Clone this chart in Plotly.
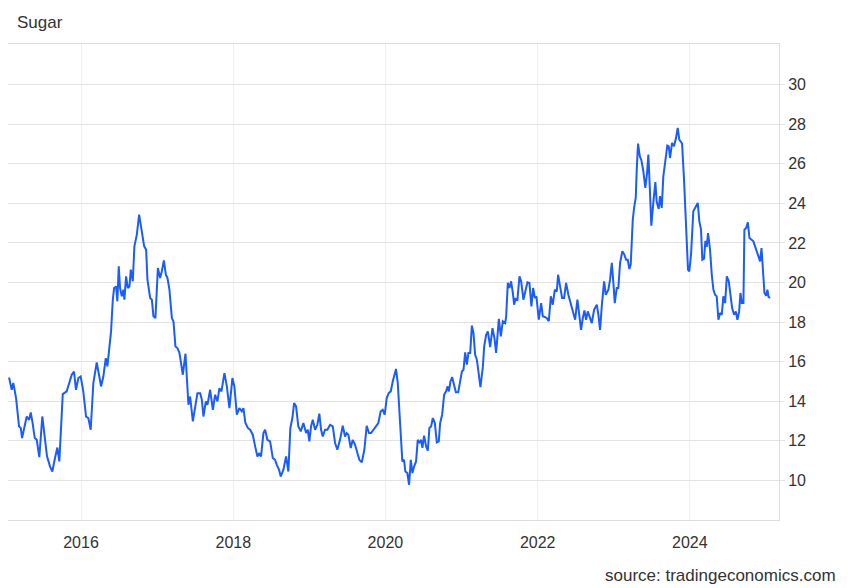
import pandas as pd
import plotly.graph_objects as go

# Decimal-year positions and sugar prices (USd/lbs)
years = [
2015.054,2015.089,2015.110,2015.146,2015.185,2015.208,2015.225,2015.251,2015.286,2015.317,
2015.339,2015.360,2015.392,2015.418,2015.452,2015.491,2015.527,2015.553,2015.593,2015.623,
2015.658,2015.689,2015.715,2015.760,2015.812,2015.846,2015.878,2015.908,2015.934,2015.965,
2015.996,2016.030,2016.066,2016.096,2016.127,2016.162,2016.206,2016.240,2016.263,2016.293,
2016.325,2016.346,2016.372,2016.394,2016.417,2016.434,2016.460,2016.477,2016.495,2016.512,
2016.535,2016.556,2016.569,2016.591,2016.614,2016.635,2016.653,2016.679,2016.700,2016.732,
2016.762,2016.798,2016.828,2016.854,2016.871,2016.907,2016.929,2016.950,2016.976,2017.008,
2017.038,2017.060,2017.087,2017.113,2017.134,2017.160,2017.192,2017.213,2017.239,2017.265,
2017.292,2017.336,2017.371,2017.410,2017.432,2017.468,2017.498,2017.528,2017.564,2017.586,
2017.607,2017.639,2017.660,2017.695,2017.731,2017.761,2017.791,2017.817,2017.844,2017.883,
2017.915,2017.949,2017.988,2018.014,2018.046,2018.080,2018.112,2018.133,2018.159,2018.191,
2018.221,2018.256,2018.287,2018.317,2018.343,2018.365,2018.396,2018.418,2018.448,2018.484,
2018.519,2018.549,2018.572,2018.602,2018.624,2018.658,2018.694,2018.724,2018.750,2018.777,
2018.799,2018.825,2018.855,2018.887,2018.921,2018.957,2018.979,2019.000,2019.022,2019.045,
2019.075,2019.105,2019.131,2019.154,2019.176,2019.206,2019.237,2019.272,2019.308,2019.338,
2019.368,2019.403,2019.439,2019.469,2019.491,2019.513,2019.544,2019.570,2019.601,2019.623,
2019.657,2019.689,2019.723,2019.754,2019.785,2019.811,2019.841,2019.873,2019.907,2019.938,
2019.965,2019.991,2020.017,2020.043,2020.070,2020.096,2020.117,2020.139,2020.162,2020.183,
2020.201,2020.222,2020.244,2020.262,2020.288,2020.310,2020.333,2020.354,2020.376,2020.402,
2020.424,2020.446,2020.468,2020.485,2020.507,2020.534,2020.556,2020.577,2020.599,2020.622,
2020.648,2020.674,2020.700,2020.718,2020.744,2020.770,2020.796,2020.813,2020.832,2020.853,
2020.875,2020.898,2020.924,2020.954,2020.980,2021.003,2021.024,2021.046,2021.068,2021.089,
2021.112,2021.134,2021.155,2021.177,2021.200,2021.221,2021.247,2021.279,2021.296,2021.322,
2021.344,2021.375,2021.405,2021.431,2021.453,2021.489,2021.515,2021.541,2021.572,2021.585,
2021.607,2021.628,2021.650,2021.673,2021.690,2021.707,2021.733,2021.760,2021.782,2021.812,
2021.838,2021.865,2021.891,2021.917,2021.940,2021.962,2021.983,2022.014,2022.045,2022.067,
2022.093,2022.120,2022.146,2022.172,2022.198,2022.225,2022.251,2022.268,2022.294,2022.321,
2022.347,2022.373,2022.403,2022.435,2022.461,2022.492,2022.522,2022.548,2022.570,2022.593,
2022.614,2022.636,2022.658,2022.689,2022.711,2022.741,2022.777,2022.798,2022.820,2022.842,
2022.873,2022.895,2022.929,2022.951,2022.974,2022.995,2023.013,2023.039,2023.060,2023.083,
2023.113,2023.139,2023.162,2023.184,2023.205,2023.223,2023.250,2023.267,2023.289,2023.302,
2023.319,2023.342,2023.363,2023.389,2023.415,2023.438,2023.455,2023.473,2023.494,2023.520,
2023.547,2023.565,2023.591,2023.608,2023.631,2023.652,2023.674,2023.704,2023.723,2023.740,
2023.766,2023.792,2023.819,2023.841,2023.862,2023.898,2023.924,2023.950,2023.976,2023.993,
2024.016,2024.046,2024.082,2024.104,2024.125,2024.147,2024.164,2024.187,2024.204,2024.222,
2024.239,2024.265,2024.288,2024.309,2024.331,2024.353,2024.375,2024.397,2024.419,2024.440,
2024.463,2024.485,2024.511,2024.528,2024.555,2024.581,2024.603,2024.624,2024.647,2024.664,
2024.682,2024.703,2024.716,2024.739,2024.761,2024.782,2024.804,2024.834,2024.870,2024.900,
2024.922,2024.940,2024.966,2024.979,2025.001,2025.018,2025.032,2025.054,
]

prices = [
15.20,14.58,14.92,14.16,12.73,12.65,12.14,12.65,13.23,13.06,
13.43,12.98,12.14,12.05,11.18,13.23,12.14,11.22,10.70,10.45,
11.13,11.66,10.96,14.36,14.50,14.92,15.34,15.50,14.58,15.17,
15.25,14.50,13.23,13.15,12.56,14.92,15.96,15.25,14.75,15.25,
16.18,15.76,16.86,17.53,19.13,19.72,19.80,19.05,20.82,19.72,
19.30,19.64,19.13,20.31,19.72,19.80,20.65,20.06,21.83,22.42,
23.43,22.58,21.83,21.66,20.14,19.22,19.13,18.29,18.20,20.73,
20.23,20.57,21.12,20.39,20.23,19.64,18.20,18.04,16.77,16.69,
16.44,15.34,16.40,13.82,14.24,12.98,13.82,14.41,14.41,14.08,
13.23,13.99,13.82,14.58,13.57,14.33,13.99,14.66,14.50,15.42,
14.75,13.65,15.17,14.75,13.32,13.65,13.49,13.65,12.90,12.65,
12.56,12.31,11.72,11.21,11.38,11.21,12.39,12.56,12.05,11.97,
11.13,11.04,10.79,10.53,10.20,10.53,11.21,10.45,12.65,13.15,
13.91,13.74,12.73,12.48,12.90,12.39,12.56,11.97,12.73,13.07,
12.56,12.81,13.37,12.56,12.22,12.56,12.56,12.81,12.73,11.89,
11.55,12.05,12.76,12.22,12.39,12.31,11.64,12.05,11.80,11.47,
11.04,10.91,11.55,12.76,12.39,12.39,12.56,12.73,12.90,13.49,
13.57,13.32,14.16,14.41,14.50,15.00,15.25,15.63,14.92,13.57,
12.22,10.96,11.04,10.45,10.37,9.78,11.04,10.37,10.70,10.96,
12.05,11.89,12.05,11.64,12.26,11.72,11.50,12.65,12.73,13.15,
12.90,11.92,11.97,12.90,13.32,14.33,14.50,14.75,14.50,15.00,
15.22,14.92,14.45,14.45,15.09,15.50,15.59,16.47,15.85,16.44,
16.44,17.82,17.45,16.35,16.10,15.42,14.71,15.76,16.77,17.36,
17.53,16.74,17.69,17.19,16.44,18.16,17.28,18.04,17.95,18.29,
19.98,19.72,20.06,19.47,18.88,19.17,19.13,20.31,20.06,19.13,
19.55,20.01,19.98,18.79,19.72,19.22,19.30,18.12,18.96,18.29,
18.26,18.20,18.04,19.30,18.88,19.64,19.55,20.39,19.80,19.22,
19.22,19.98,19.38,18.96,18.62,18.12,19.13,18.12,17.61,18.20,
18.59,18.12,18.54,18.20,17.95,18.62,18.88,18.37,17.60,18.79,
20.06,19.38,19.64,20.14,20.99,19.98,18.96,19.72,19.72,20.99,
21.58,21.41,21.15,21.15,20.68,20.90,23.18,23.77,24.27,25.70,
27.02,26.38,26.18,25.62,24.78,25.54,26.46,24.86,22.87,24.02,
25.07,24.06,23.72,24.36,23.77,25.37,26.04,26.92,26.88,26.29,
27.05,26.88,27.31,27.81,27.22,27.02,25.20,22.50,20.65,20.56,
21.40,23.60,23.90,24.02,23.09,22.67,21.15,21.20,22.10,21.80,
22.50,21.66,20.39,19.64,19.38,19.30,18.12,18.46,18.37,19.30,
18.96,20.31,20.06,19.47,18.71,18.37,18.54,18.12,18.54,19.47,
18.96,18.96,22.67,22.75,23.04,22.25,22.16,22.08,21.66,21.32,
21.07,21.74,20.14,19.47,19.33,19.64,19.27,19.22,
]

x_tick_years = [2016, 2018, 2020, 2022, 2024]
y_ticks = [10, 12, 14, 16, 18, 20, 22, 24, 26, 28, 30]
title_text = "Sugar"
source_text = "source: tradingeconomics.com"


def to_date(d):
    y = int(d)
    start = pd.Timestamp(year=y, month=1, day=1)
    end = pd.Timestamp(year=y + 1, month=1, day=1)
    return start + (end - start) * (d - y)


dates = [to_date(d) for d in years]

FONT = "Arial, Liberation Sans, sans-serif"
GRID_H = "#e3e3e3"
GRID_V = "#edf0f3"

fig = go.Figure()
fig.add_trace(go.Scatter(
    x=dates, y=prices, mode="lines",
    line=dict(color="#1a5cff", width=2),
    hoverinfo="x+y", showlegend=False,
))

# the page body adds an 8px margin, so the figure is 8px smaller on each side
fig.update_layout(
    width=840, height=580,
    margin=dict(l=0, r=69, t=36, b=68),
    paper_bgcolor="white", plot_bgcolor="white",
    font=dict(family=FONT, size=16, color="#333333"),
    xaxis=dict(
        type="date",
        range=[to_date(2015.04), to_date(2025.17)],
        tickvals=[pd.Timestamp(year=y, month=1, day=1) for y in x_tick_years],
        ticktext=[str(y) for y in x_tick_years],
        showgrid=True, gridcolor=GRID_V, gridwidth=1,
        showline=True, linecolor="#dddddd", linewidth=1, mirror=True,
        ticks="outside", ticklen=8, tickcolor="rgba(0,0,0,0)",
        tickfont=dict(size=16, color="#333333"),
        zeroline=False,
    ),
    yaxis=dict(
        side="right",
        range=[8, 32.05],
        tickvals=y_ticks,
        showgrid=True, gridcolor=GRID_H, gridwidth=1,
        showline=True, linecolor="#dddddd", linewidth=1,
        ticks="outside", ticklen=5, tickcolor=GRID_H,
        tickfont=dict(size=16, color="#333333"),
        zeroline=False,
    ),
    annotations=[
        dict(text=title_text, xref="paper", yref="paper", x=0, y=1,
             xanchor="left", yanchor="middle", xshift=7, yshift=22,
             showarrow=False, font=dict(size=17, color="#333333", family=FONT)),
        dict(text=source_text, xref="paper", yref="paper", x=1, y=0,
             xanchor="right", yanchor="middle", xshift=59, yshift=-55,
             showarrow=False, font=dict(size=17, color="#333333", family=FONT)),
    ],
)

fig.write_html("out.html")
